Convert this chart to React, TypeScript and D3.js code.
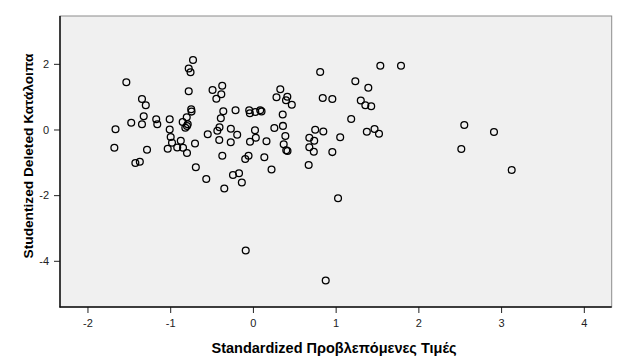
import * as d3 from "d3";
import { useEffect, useRef } from "react";

// standardized predicted values (x) and studentized deleted residuals (y)
const predicted = [
  -1.53, -1.661, -1.675, -1.471, -1.341, -1.295, -1.32, -1.341, -1.28, -1.421,
  -1.367, -1.169, -1.156, -1.006, -1.006, -0.994, -0.978, -1.03, -0.915, -0.872,
  -0.845, -0.797, -0.849, -0.817, -0.797, -0.788, -0.8, -0.724, -0.776, -0.754,
  -0.776, -0.746, -0.742, -0.7, -0.69, -0.546, -0.564, -0.488, -0.442, -0.371,
  -0.382, -0.358, -0.388, -0.404, -0.43, -0.407, -0.37, -0.346, -0.267, -0.268,
  -0.19, -0.21, -0.241, -0.168, -0.134, -0.093, -0.053, -0.087, -0.045, -0.037,
  0.029, 0.088, 0.104, -0.035, 0.025, 0.035, 0.164, 0.138, 0.225, 0.259,
  0.285, 0.331, 0.416, 0.4, 0.47, 0.36, 0.363, 0.392, 0.372, 0.403,
  0.418, 0.674, 0.682, 0.741, 0.682, 0.736, 0.753, 0.851, 0.813, 0.844,
  0.96, 0.96, 1.029, 1.055, 0.88, 1.188, 1.238, 1.395, 1.304, 1.359,
  1.43, 1.54, 1.79, 1.377, 1.47, 1.524, 2.555, 2.519, 2.914, 3.128,
];
const residuals = [
  1.438, 0.006, -0.554, 0.204, 0.929, 0.74, 0.402, 0.158, -0.615, -1.02,
  -0.981, 0.314, 0.161, 0.314, 0.0, -0.228, -0.402, -0.585, -0.548, -0.341,
  -0.554, -0.716, 0.228, 0.055, 0.107, 0.158, 0.372, 2.117, 1.858, 1.745,
  1.167, 0.615, 0.545, -0.426, -1.148, -0.143, -1.508, 1.203, 0.938, 1.331,
  1.075, 0.554, 0.344, 0.07, -0.037, -0.32, -0.798, -1.797, 0.024, -0.387,
  -0.161, 0.585, -1.386, -1.334, -1.614, -0.899, -0.798, -3.686, 0.588, 0.497,
  0.533, 0.585, 0.551, -0.372, -0.021, -0.253, -0.356, -0.847, -1.218, 0.046,
  0.984, 1.228, 0.999, 0.892, 0.755, 0.457, 0.11, -0.198, -0.451, -0.634,
  -0.655, -1.081, -0.25, -0.344, -0.539, -0.676, -0.006, -0.061, 1.751, 0.96,
  0.929, -0.688, -2.096, -0.238, -4.599, 0.32, 1.471, 1.273, 0.883, 0.74,
  0.707, 1.943, 1.943, -0.067, 0.015, -0.131, 0.137, -0.594, -0.076, -1.234,
];
const xTicks = [-2, -1, 0, 1, 2, 3, 4];
const yTicks = [-4, -2, 0, 2];

const xTitle = "Standardized Προβλεπόμενες Τιμές";
const yTitle = "Studentized Deleted Κατάλοιπα";

const App = () => {
  const ref = useRef<SVGSVGElement>(null);

  useEffect(() => {
    const svg = d3.select(ref.current);
    svg.selectAll("*").remove();

    const left = 60, top = 16, right = 611.7, bottom = 307;
    const font = "'Liberation Sans', Arial, sans-serif";

    const x = d3.scaleLinear().domain([-2.332, 4.337]).range([left, right]);
    const y = d3.scaleLinear().domain([-5.407, 3.457]).range([bottom, top]);

    // plot background with light grey frame
    svg.append("rect")
      .attr("x", left).attr("y", top)
      .attr("width", right - left).attr("height", bottom - top)
      .attr("fill", "#f0f0f0")
      .attr("stroke", "#8c8c8c")
      .attr("stroke-width", 1);

    const pts = predicted.map((p, i) => ({ x: p, y: residuals[i] }));
    svg.append("g")
      .selectAll("circle")
      .data(pts)
      .join("circle")
      .attr("cx", (d) => x(d.x))
      .attr("cy", (d) => y(d.y))
      .attr("r", 3.4)
      .attr("fill", "none")
      .attr("stroke", "#000")
      .attr("stroke-width", 1.3);

    const xAxis = svg.append("g")
      .attr("transform", "translate(0," + bottom + ")")
      .call(d3.axisBottom(x).tickValues(xTicks).tickSize(6).tickPadding(6).tickFormat(d3.format("d")));
    const yAxis = svg.append("g")
      .attr("transform", "translate(" + left + ",0)")
      .call(d3.axisLeft(y).tickValues(yTicks).tickSize(6).tickPadding(5).tickFormat(d3.format("d")));

    [xAxis, yAxis].forEach((g) => {
      g.select(".domain").remove();
      g.selectAll("line").attr("stroke", "#222").attr("stroke-width", 1);
      g.selectAll("text")
        .attr("font-family", font)
        .attr("font-size", 11)
        .attr("fill", "#222");
    });
    // hyphen instead of unicode minus, like the original
    svg.selectAll(".tick text").text((d: any) => String(d));

    // dark left and bottom axis lines
    svg.append("line")
      .attr("x1", left).attr("x2", left).attr("y1", top).attr("y2", bottom + 0.5)
      .attr("stroke", "#111").attr("stroke-width", 1.5);
    svg.append("line")
      .attr("x1", left - 0.5).attr("x2", right).attr("y1", bottom).attr("y2", bottom)
      .attr("stroke", "#111").attr("stroke-width", 1.5);

    svg.append("text")
      .attr("x", 334)
      .attr("y", 353)
      .attr("text-anchor", "middle")
      .attr("font-family", font)
      .attr("font-weight", "bold")
      .attr("font-size", 14.5)
      .text(xTitle);

    svg.append("text")
      .attr("transform", "translate(33,156) rotate(-90)")
      .attr("text-anchor", "middle")
      .attr("font-family", font)
      .attr("font-weight", "bold")
      .attr("font-size", 13.7)
      .text(yTitle);
  }, []);

  return (
    <div>
      <style>{"body{margin:0}"}</style>
      <svg ref={ref} width={623} height={362} style={{ display: "block", background: "#fff" }} />
    </div>
  );
};

export default App;
